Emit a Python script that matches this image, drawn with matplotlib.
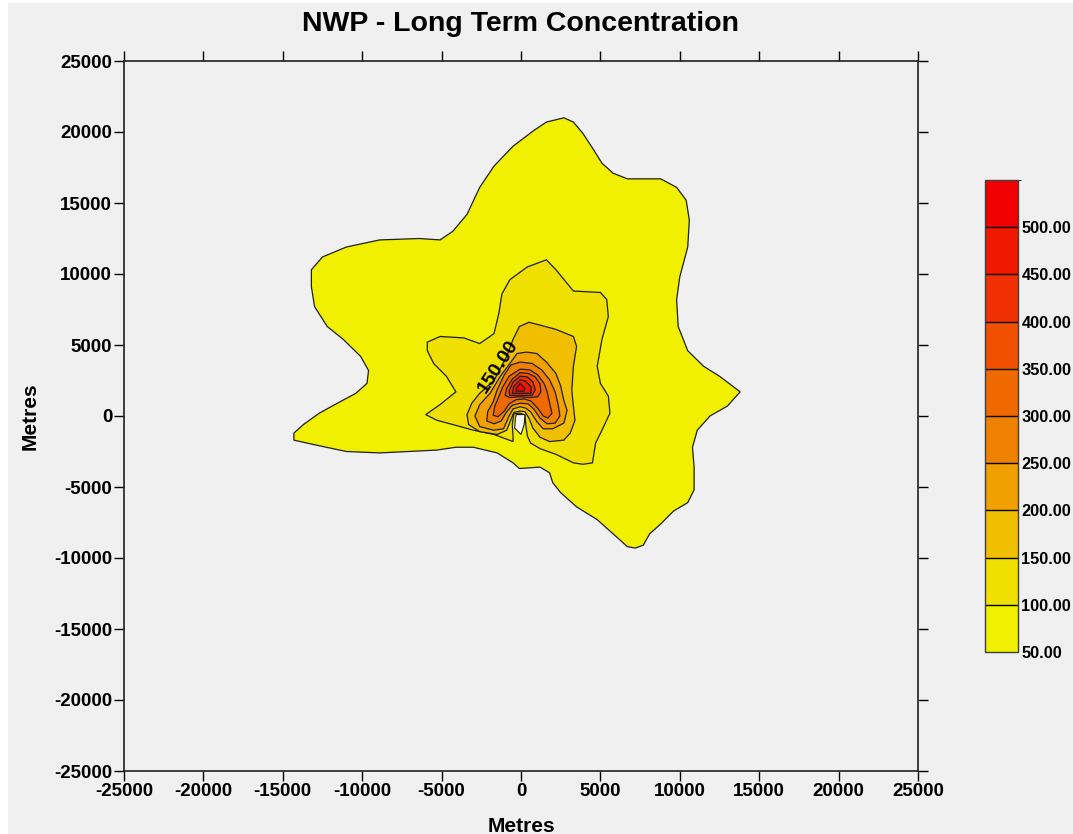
import matplotlib
matplotlib.use("Agg")
import matplotlib.pyplot as plt
import matplotlib as mpl
from matplotlib.colors import ListedColormap, BoundaryNorm
from matplotlib.patches import Rectangle
from matplotlib.ticker import FormatStrFormatter

# ---------------- data (metres / concentration) ----------------
levels = [50, 100, 150, 200, 250, 300, 350, 400, 450, 500, 550]
band_colors = ['#f0f000', '#f0e000', '#f0c000', '#f0a000', '#f08000',
               '#f06800', '#f05000', '#f03000', '#f01800', '#f00000']
colorbar_ticks = [50, 100, 150, 200, 250, 300, 350, 400, 450, 500]
axis_ticks = [-25000, -20000, -15000, -10000, -5000, 0, 5000, 10000, 15000, 20000, 25000]

contour_50 = [(2700, 21000), (3300, 20700), (3900, 19900), (4600, 18700), (5100, 17800),
              (5800, 17100), (6700, 16700), (8800, 16700), (9800, 16100), (10400, 15200),
              (10600, 13800), (10500, 11900), (10000, 9800), (9800, 8200), (9900, 6300),
              (10500, 4600), (11500, 3500), (12500, 2800), (13800, 1700), (13000, 700),
              (11900, 0), (11100, -1000), (10800, -2200), (10900, -3600), (10900, -5200),
              (10500, -6100), (9600, -6700), (8800, -7600), (8100, -8300), (7700, -9100),
              (7200, -9300), (6700, -9200), (5800, -8300), (4800, -7300), (3500, -6400),
              (2500, -5400), (2000, -4700), (1800, -4000), (1200, -3600), (-100, -3700),
              (-500, -3300), (-1500, -2600), (-3000, -2200), (-4100, -2200), (-5300, -2400),
              (-8900, -2600), (-11000, -2500), (-13100, -2000), (-14300, -1700), (-14300, -1200),
              (-13700, -600), (-12700, 200), (-11400, 1000), (-10400, 1600), (-9700, 2300),
              (-9600, 3200), (-10100, 4200), (-11200, 5400), (-12200, 6300), (-13000, 7700),
              (-13200, 9100), (-13200, 10300), (-12500, 11200), (-11000, 11900), (-8900, 12400),
              (-6400, 12500), (-5100, 12400), (-4300, 13000), (-3400, 14200), (-2600, 16100),
              (-1700, 17600), (-500, 19000), (800, 20100), (1600, 20700)]

contour_100 = [(1600, 11000), (2200, 10300), (3300, 8800), (5000, 8700), (5400, 8200),
               (5500, 7000), (5100, 5400), (4800, 3500), (5000, 2300), (5500, 1400),
               (5600, 200), (5100, -1000), (4700, -1900), (4500, -3300), (3900, -3400),
               (3300, -3300), (2200, -2700), (1200, -2300), (600, -1900), (400, -1400),
               (300, -600), (250, 70), (-50, 200), (-450, 150), (-550, -600),
               (-500, -1400), (-500, -1800), (-1700, -1300), (-3000, -1000), (-4300, -600),
               (-5300, -300), (-6000, 100), (-5100, 800), (-4100, 1700), (-4700, 2800),
               (-5500, 3700), (-5900, 4600), (-5900, 5200), (-5100, 5600), (-3600, 5500),
               (-2600, 5100), (-1700, 5800), (-1400, 7200), (-1200, 8600), (-700, 9600),
               (400, 10500)]

contour_150 = [(500, 6600), (1200, 6400), (2200, 6100), (3300, 5600), (3500, 4900),
               (3300, 3500), (3200, 1800), (3300, 700), (3400, -300), (3100, -1200),
               (2700, -1700), (1800, -1800), (1200, -1500), (750, -850), (500, -150),
               (250, 300), (-50, 350), (-450, 250), (-650, -300), (-900, -1000),
               (-1500, -1300), (-2600, -1100), (-3300, -600), (-3400, 100), (-3100, 900),
               (-2600, 1600), (-1700, 2500), (-900, 4200), (-500, 5400), (-100, 6300)]

contour_200 = [(350, 4500), (1000, 4400), (1600, 3800), (2200, 3000), (2500, 2100),
               (2700, 1100), (2900, 400), (2700, -500), (2000, -900), (1400, -900),
               (1000, -400), (600, 300), (300, 550), (-50, 650), (-500, 500),
               (-750, 0), (-1100, -900), (-1700, -1000), (-2600, -750), (-2900, 0),
               (-2600, 800), (-1950, 1600), (-1300, 2800), (-700, 3700), (-250, 4400)]

contour_250 = [(-50, 3800), (700, 3700), (1300, 3250), (1800, 2550), (2150, 1700),
               (2350, 750), (2450, 0), (2150, -500), (1650, -550), (1200, -150),
               (800, 500), (450, 850), (-50, 900), (-550, 750), (-900, 300),
               (-1250, -350), (-1700, -550), (-2150, -350), (-2100, 300), (-1750, 1000),
               (-1500, 1850), (-1050, 2900), (-630, 3600)]

contour_300 = [(-50, 3300), (550, 3250), (1050, 2900), (1450, 2300), (1650, 1700),
               (1800, 900), (1950, 200), (1700, -150), (1400, 0), (1050, 550),
               (630, 1050), (200, 1200), (-300, 1150), (-750, 850), (-1050, 350),
               (-1450, -50), (-1750, 50), (-1650, 700), (-1400, 1350), (-1150, 2050),
               (-750, 2800)]

contour_350 = [(-50, 3050), (450, 3000), (900, 2750), (1200, 2250), (1250, 1700),
               (1050, 1350), (550, 1300), (-50, 1350), (-700, 1300), (-1000, 1450),
               (-900, 1950), (-550, 2600)]

contour_400 = [(-50, 2800), (400, 2750), (750, 2400), (900, 1850), (700, 1450),
               (-50, 1450), (-700, 1450), (-750, 1750), (-500, 2400)]

contour_450 = [(-50, 2550), (300, 2450), (630, 2050), (630, 1600), (-50, 1600),
               (-550, 1600), (-450, 2100)]

contour_500 = [(-50, 2300), (250, 1950), (200, 1750), (-300, 1750), (-300, 1950)]

hole = [(-300, 100), (250, 100), (200, -600), (0, -1300), (-400, -850), (-350, -150)]

label_text = '150.00'
label_pos = (-1450, 3450)

contours = [contour_50, contour_100, contour_150, contour_200, contour_250,
            contour_300, contour_350, contour_400, contour_450, contour_500]

# ---------------- style ----------------
plt.rcParams['font.family'] = ['Liberation Sans', 'DejaVu Sans']
plt.rcParams['font.weight'] = 'bold'
plt.rcParams['axes.unicode_minus'] = False

W, H = 1073, 834
BG = '#f0f0f0'
fig = plt.figure(figsize=(W / 100, H / 100), dpi=100, facecolor='white')
fig.patches.append(Rectangle((8 / W, 0), 1, 1 - 3 / H, transform=fig.transFigure,
                             facecolor=BG, edgecolor='none', zorder=-10))

ax = fig.add_axes([124 / W, 1 - 771 / H, 794 / W, 710 / H])
ax.set_facecolor(BG)

for poly, col in zip(contours, band_colors):
    xs = [p[0] for p in poly]
    ys = [p[1] for p in poly]
    ax.fill(xs, ys, facecolor=col, edgecolor='#1e1e1e', linewidth=0.9, zorder=2)

ax.fill([p[0] for p in hole], [p[1] for p in hole], facecolor='#f7f7f7',
        edgecolor='#1e1e1e', linewidth=0.8, zorder=3)

ax.text(label_pos[0], label_pos[1], label_text, rotation=57, ha='center', va='center',
        fontsize=14, fontweight='bold', color='black', zorder=4,
        rotation_mode='anchor')

ax.set_xlim(-25000, 25000)
ax.set_ylim(-25000, 25000)
ax.set_xticks(axis_ticks)
ax.set_yticks(axis_ticks)
ax.xaxis.set_major_formatter(FormatStrFormatter('%d'))
ax.yaxis.set_major_formatter(FormatStrFormatter('%d'))
ax.tick_params(direction='out', length=7.5, width=1.0, top=True, right=True,
               labeltop=False, labelright=False, labelsize=13.5, pad=1, colors='black')
for s in ax.spines.values():
    s.set_linewidth(1.2)
    s.set_color('#202020')

fig.text(521 / W, 1 - 24 / H, 'NWP - Long Term Concentration', ha='center', va='center',
         fontsize=20.5, fontweight='bold')
fig.text(521 / W, 1 - 826 / H, 'Metres', ha='center', va='center',
         fontsize=15, fontweight='bold')
fig.text(30 / W, 1 - 416 / H, 'Metres', ha='center', va='center', rotation=90,
         fontsize=15, fontweight='bold')

# colorbar
cax = fig.add_axes([985 / W, 1 - 652 / H, 33 / W, 472 / H])
cmap = ListedColormap(band_colors)
norm = BoundaryNorm(levels, cmap.N)
cb = mpl.colorbar.ColorbarBase(cax, cmap=cmap, norm=norm, boundaries=levels,
                               ticks=colorbar_ticks, drawedges=True,
                               format=FormatStrFormatter('%.2f'))
cb.ax.tick_params(length=0, labelsize=11.8, pad=2.5)
cb.outline.set_edgecolor('#404040')
cb.outline.set_linewidth(1.0)
cb.dividers.set_color('black')
cb.dividers.set_linewidth(1.0)

fig.savefig('out.png', dpi=100, facecolor=fig.get_facecolor())
